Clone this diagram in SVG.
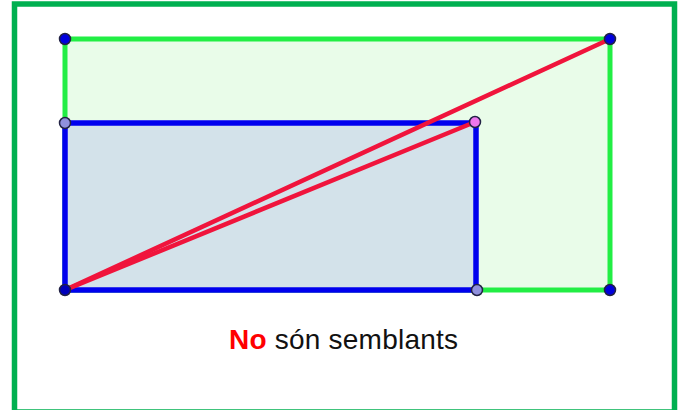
<svg xmlns="http://www.w3.org/2000/svg" width="682" height="410" viewBox="0 0 682 410">
<style>
.frame{fill:#fff;stroke:#00B050;stroke-width:5.5}
.g{fill:#E9FCE9;stroke:#22EE44;stroke-width:5}
.b{fill:#D3E2EA;stroke:#0000EE;stroke-width:5.5}
.r{stroke:#F0143C;stroke-width:4.5;stroke-linecap:round;fill:none}
.pt{stroke:#222244;stroke-width:1.5}
.t{font-family:"Liberation Sans",Arial,sans-serif;font-size:28px;fill:#111}
</style>
<rect class="frame" x="14.5" y="4" width="660" height="408"/>
<g id="green-rect"><rect class="g" x="65" y="39" width="545" height="251"/></g>
<g id="blue-rect"><rect class="b" x="65" y="123" width="411" height="167"/></g>
<g id="connectors">
<line class="r" x1="65" y1="290" x2="610" y2="39"/>
<line class="r" x1="65" y1="290" x2="475" y2="122"/>
</g>
<g id="p1"><circle class="pt" cx="65" cy="39" r="5.5" fill="#0000DD"/></g>
<g id="p2"><circle class="pt" cx="65" cy="123" r="5.5" fill="#9090DD"/></g>
<g id="p3"><circle class="pt" cx="475" cy="122" r="5.5" fill="#EE77EE"/></g>
<g id="p4"><circle class="pt" cx="65" cy="290" r="5.5" fill="#0000BB"/></g>
<g id="p5"><circle class="pt" cx="477" cy="290" r="5.5" fill="#9090DD"/></g>
<g id="p6"><circle class="pt" cx="610" cy="290" r="5.5" fill="#0000DD"/></g>
<g id="p7"><circle class="pt" cx="610" cy="39" r="5.5" fill="#0000DD"/></g>
<text class="t" x="229" y="349" textLength="229"><tspan font-weight="bold" fill="#FF0000">No</tspan> són semblants</text>
</svg>
